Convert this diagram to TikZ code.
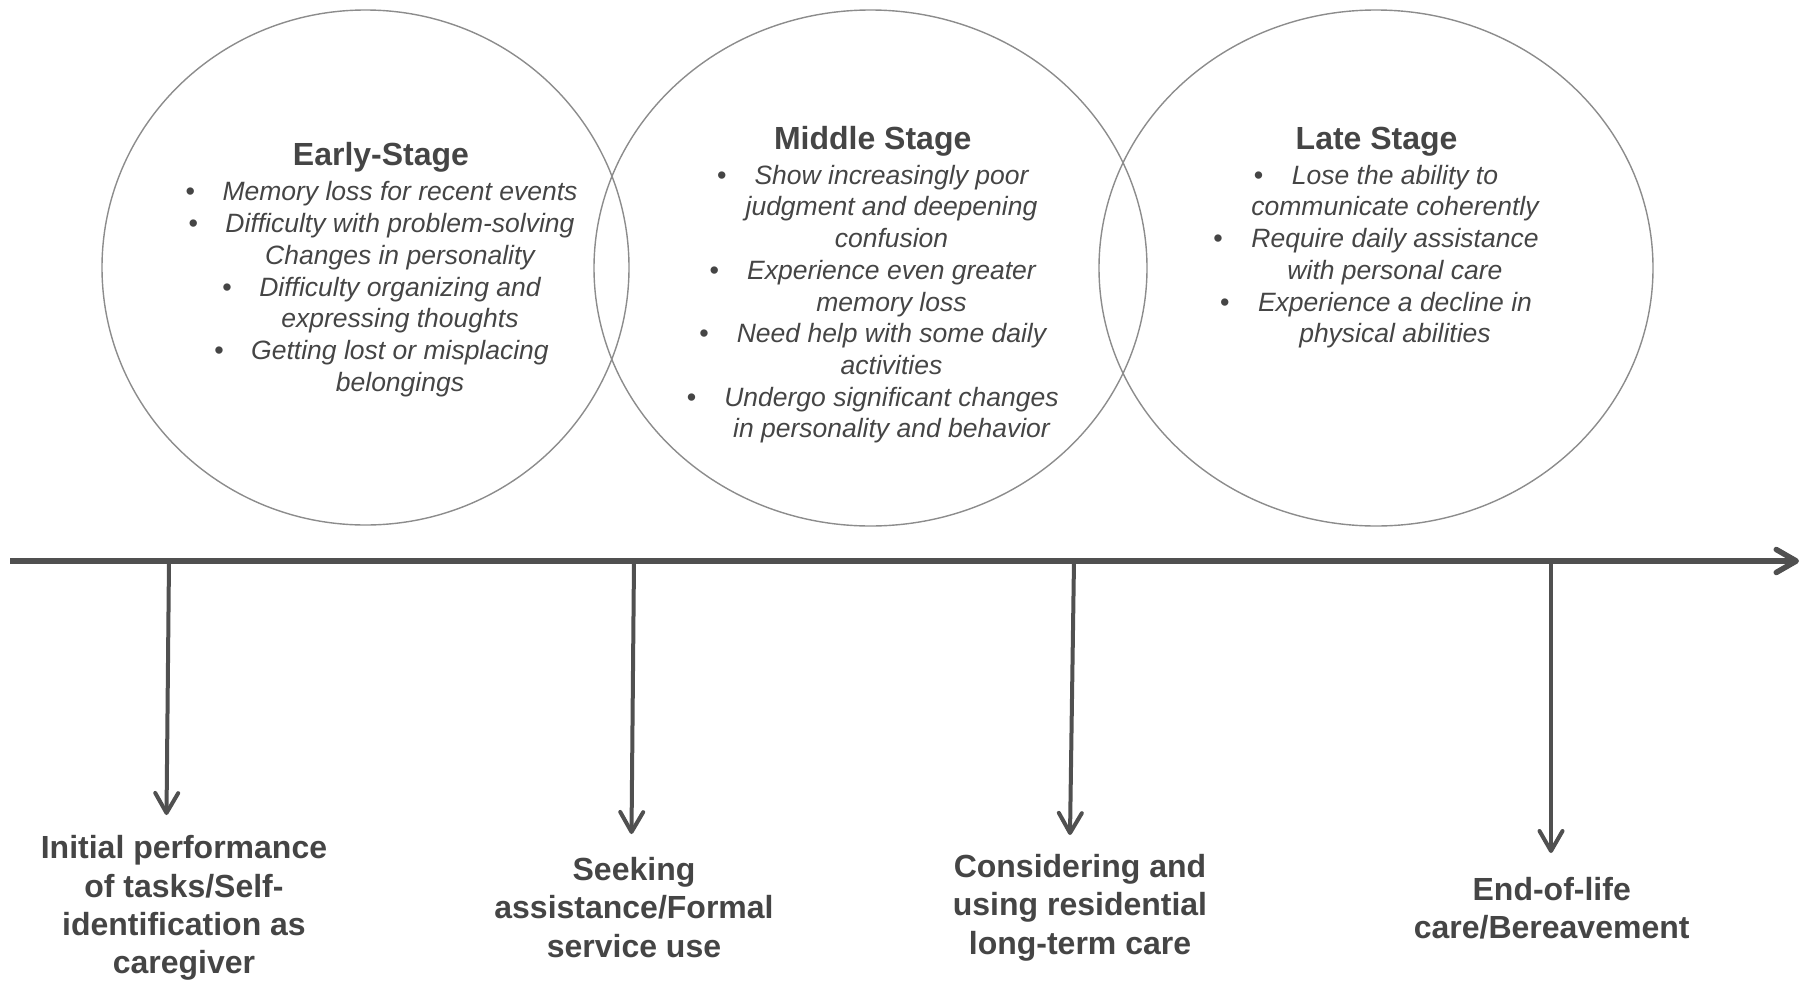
\documentclass[tikz,border=0pt]{standalone}
\usepackage{fontspec}
\setmainfont{Liberation Sans}
\usetikzlibrary{arrows.meta,shapes.geometric,calc}
\definecolor{ink}{HTML}{454545}
\definecolor{axis}{HTML}{505050}
\definecolor{ring}{HTML}{8C8C8C}
\begin{document}
\begin{tikzpicture}[x=1pt,y=-1pt,
  stagering/.style={ellipse,draw=ring,line width=1.4pt,inner sep=0pt},
  stagetitle/.style={text=ink,font=\bfseries\fontsize{32}{38}\selectfont,
    text height=28pt,text depth=6.7pt,inner sep=0pt},
  item/.style={text=ink,font=\itshape\fontsize{26.5}{31.8}\selectfont,
    text height=24pt,text depth=5.6pt,inner sep=0pt},
  bul/.style={text=ink,font=\fontsize{27}{30}\selectfont,inner sep=0pt,
    text height=24pt,text depth=5.6pt},
  milestone/.style={text=ink,font=\bfseries\fontsize{32}{38.3}\selectfont,
    align=center,inner sep=0pt},
  tipped/.style={draw=axis,line width=#1,
    -{Straight Barb[length=20pt,width=23pt,round]}},
]
\useasboundingbox (0,0) rectangle (1810,980);

% stage rings
\node[stagering,minimum width=527pt,minimum height=515pt] (early) at (365.5,267.5) {};
\node[stagering,minimum width=553pt,minimum height=516pt] (middle) at (870.5,268) {};
\node[stagering,minimum width=554pt,minimum height=516pt] (late) at (1376,268) {};

% early stage
\node[stagetitle] (etitle) at (381,155) {Early-Stage};
\node[item] (e1) at (400,191.5) {Memory loss for recent events};
\node[item] (e2) at (400,223.3) {Difficulty with problem-solving};
\node[item] (e3) at (400,255.1) {Changes in personality};
\node[item] (e4) at (400,286.9) {Difficulty organizing and};
\node[item] (e5) at (400,318.7) {expressing thoughts};
\node[item] (e6) at (400,350.5) {Getting lost or misplacing};
\node[item] (e7) at (400,382.3) {belongings};
\foreach \l in {e1,e2,e4,e6}
  \node[bul] (b\l) at ($(\l.west)+(-32,0)$) {•};

% middle stage
\node[stagetitle] (mtitle) at (872.7,139) {Middle Stage};
\node[item] (m1) at (891.5,175) {Show increasingly poor};
\node[item] (m2) at (891.5,206.7) {judgment and deepening};
\node[item] (m3) at (891.5,238.4) {confusion};
\node[item] (m4) at (891.5,270.1) {Experience even greater};
\node[item] (m5) at (891.5,301.8) {memory loss};
\node[item] (m6) at (891.5,333.5) {Need help with some daily};
\node[item] (m7) at (891.5,365.2) {activities};
\node[item] (m8) at (891.5,396.9) {Undergo significant changes};
\node[item] (m9) at (891.5,428.6) {in personality and behavior};
\foreach \l in {m1,m4,m6,m8}
  \node[bul] (b\l) at ($(\l.west)+(-32.5,0)$) {•};

% late stage
\node[stagetitle] (ltitle) at (1376.6,139) {Late Stage};
\node[item] (l1) at (1395,175) {Lose the ability to};
\node[item] (l2) at (1395,206.7) {communicate coherently};
\node[item] (l3) at (1395,238.4) {Require daily assistance};
\node[item] (l4) at (1395,270.1) {with personal care};
\node[item] (l5) at (1395,301.8) {Experience a decline in};
\node[item] (l6) at (1395,333.5) {physical abilities};
\foreach \l in {l1,l3,l5}
  \node[bul] (b\l) at ($(\l.west)+(-33,0)$) {•};

% time axis
\coordinate (axstart) at (10,561);
\coordinate (axend) at (1799,561);
\draw[tipped=5.5pt] (axstart) -- (axend);

% milestones hanging from the axis
\coordinate (t1) at (169,561);    \coordinate (h1) at (166.5,815);
\coordinate (t2) at (634,561);    \coordinate (h2) at (631.5,834);
\coordinate (t3) at (1074,561);   \coordinate (h3) at (1070,835);
\coordinate (t4) at (1551,561);   \coordinate (h4) at (1551,853);
\foreach \i in {1,2,3,4}
  \draw[tipped=4pt] (t\i) -- (h\i);

\node[milestone] (ms1) at (184,908) {Initial performance\\of tasks/Self-\\identification as\\caregiver};
\node[milestone] (ms2) at (634,907.5) {Seeking\\assistance/Formal\\service use};
\node[milestone] (ms3) at (1080,907.5) {Considering and\\using residential\\long-term care};
\node[milestone] (ms4) at (1551.7,908.3) {End-of-life\\care/Bereavement};
\end{tikzpicture}
\end{document}
